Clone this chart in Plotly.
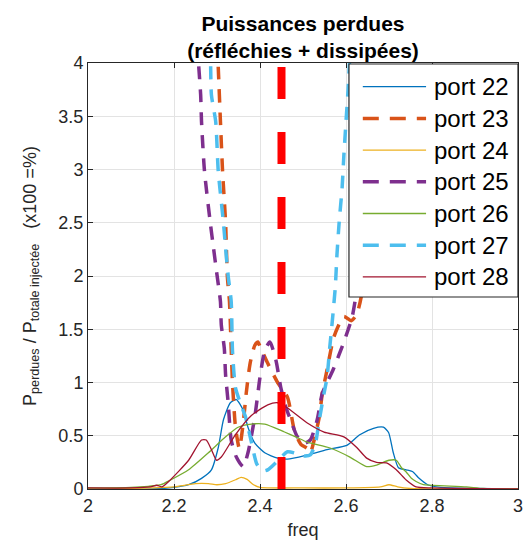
import plotly.graph_objects as go

# ---------------- data ----------------
port_names = ["port 22", "port 23", "port 24", "port 25", "port 26", "port 27", "port 28"]

freq_22 = [2.0, 2.15, 2.2, 2.234, 2.264, 2.287, 2.303, 2.315, 2.331, 2.345, 2.361, 2.372, 2.388, 2.411,
           2.441, 2.464, 2.51, 2.556, 2.602, 2.632, 2.664, 2.687, 2.699, 2.71, 2.722, 2.74, 2.756, 2.77,
           2.79, 2.82, 2.9, 3.0]
p_22 = [0.0, 0.0, 0.015, 0.04, 0.1, 0.18, 0.39, 0.65, 0.81, 0.84, 0.74, 0.58, 0.43, 0.34,
        0.29, 0.28, 0.32, 0.37, 0.41, 0.51, 0.57, 0.58, 0.53, 0.34, 0.2, 0.18, 0.16, 0.1,
        0.04, 0.015, 0.005, 0.0]

freq_23 = [2.298, 2.303, 2.308, 2.313, 2.32, 2.324, 2.329, 2.333, 2.336, 2.343, 2.352, 2.361, 2.368,
           2.377, 2.388, 2.395, 2.402, 2.418, 2.441, 2.464, 2.48, 2.495, 2.51, 2.517, 2.526, 2.538,
           2.545, 2.556, 2.572, 2.595, 2.612, 2.625, 2.637, 2.655, 2.675, 2.69, 2.7]
p_23 = [4.4, 3.95, 3.45, 2.98, 2.5, 2.0, 1.76, 1.32, 1.0, 0.58, 0.38, 0.62, 0.9,
        1.18, 1.35, 1.38, 1.32, 1.18, 1.0, 0.86, 0.55, 0.42, 0.38, 0.34, 0.46, 0.68,
        0.9, 1.12, 1.43, 1.62, 1.58, 1.64, 1.84, 2.5, 3.4, 4.0, 4.5]

freq_24 = [2.0, 2.15, 2.2, 2.25, 2.28, 2.3, 2.32, 2.345, 2.356, 2.37, 2.385, 2.4, 2.5, 2.6, 2.68,
           2.7, 2.72, 2.75, 3.0]
p_24 = [0.0, 0.01, 0.02, 0.05, 0.05, 0.04, 0.05, 0.09, 0.11, 0.09, 0.04, 0.015, 0.01, 0.01, 0.02,
        0.04, 0.02, 0.005, 0.0]

freq_25 = [2.25, 2.257, 2.262, 2.264, 2.271, 2.285, 2.292, 2.299, 2.308, 2.31, 2.317, 2.32, 2.326,
           2.333, 2.345, 2.361, 2.372, 2.388, 2.4, 2.411, 2.423, 2.437, 2.448, 2.46, 2.471, 2.487,
           2.503, 2.517, 2.533, 2.545, 2.57, 2.595, 2.614, 2.625, 2.645, 2.665, 2.676, 2.685]
p_25 = [4.4, 4.0, 3.7, 3.45, 2.98, 2.48, 2.26, 2.04, 1.76, 1.54, 1.32, 1.07, 0.81,
        0.46, 0.3, 0.21, 0.34, 0.68, 1.05, 1.3, 1.38, 1.21, 0.96, 0.77, 0.65, 0.49,
        0.43, 0.46, 0.65, 0.9, 1.12, 1.38, 1.61, 1.87, 2.6, 3.4, 4.0, 4.5]

freq_26 = [2.0, 2.1, 2.14, 2.17, 2.19, 2.234, 2.28, 2.32, 2.349, 2.38, 2.411, 2.457, 2.483, 2.51,
           2.563, 2.609, 2.648, 2.671, 2.7, 2.717, 2.729, 2.74, 2.752, 2.763, 2.78, 2.83, 2.88,
           2.92, 3.0]
p_26 = [0.01, 0.015, 0.025, 0.04, 0.08, 0.18, 0.34, 0.49, 0.58, 0.61, 0.61, 0.535, 0.49, 0.44,
        0.385, 0.3, 0.21, 0.225, 0.27, 0.27, 0.2, 0.16, 0.1, 0.07, 0.04, 0.03, 0.02,
        0.005, 0.0]

freq_27 = [2.28, 2.285, 2.287, 2.297, 2.303, 2.315, 2.32, 2.326, 2.333, 2.336, 2.343, 2.355, 2.366,
           2.38, 2.392, 2.405, 2.418, 2.44, 2.464, 2.487, 2.503, 2.517, 2.529, 2.538, 2.549,
           2.556, 2.562, 2.568, 2.575, 2.579, 2.584, 2.591, 2.595, 2.6, 2.605, 2.608, 2.612]
p_27 = [4.4, 4.0, 3.7, 3.45, 2.98, 2.5, 2.26, 2.0, 1.76, 1.3, 0.95, 0.8, 0.68,
        0.44, 0.24, 0.17, 0.18, 0.26, 0.35, 0.33, 0.31, 0.32, 0.43, 0.65, 0.9,
        1.05, 1.32, 1.57, 1.89, 2.2, 2.5, 2.83, 3.13, 3.45, 3.76, 4.0, 4.4]

freq_28 = [2.0, 2.1, 2.145, 2.16, 2.172, 2.19, 2.234, 2.264, 2.275, 2.287, 2.299, 2.31, 2.343, 2.38,
           2.418, 2.441, 2.464, 2.51, 2.549, 2.595, 2.625, 2.648, 2.671, 2.694, 2.717, 2.74,
           2.763, 2.8, 3.0]
p_28 = [0.01, 0.01, 0.02, 0.035, 0.02, 0.08, 0.27, 0.46, 0.46, 0.37, 0.27, 0.3, 0.51, 0.69,
        0.79, 0.81, 0.76, 0.62, 0.535, 0.49, 0.39, 0.29, 0.25, 0.245, 0.18, 0.085,
        0.02, 0.01, 0.0]

marker_freq = [2.45, 2.45]
marker_p = [0.0, 4.0]

x_ticks = [2, 2.2, 2.4, 2.6, 2.8, 3]
x_tick_labels = ["2", "2.2", "2.4", "2.6", "2.8", "3"]
y_ticks = [0, 0.5, 1, 1.5, 2, 2.5, 3, 3.5, 4]
y_tick_labels = ["0", "0.5", "1", "1.5", "2", "2.5", "3", "3.5", "4"]

# ---------------- styles ----------------
colors = ["#0072BD", "#D95319", "#EDB120", "#7E2F8E", "#77AC30", "#4DBEEE", "#A2142F"]
dashed = [False, True, False, True, False, True, False]
series_x = [freq_22, freq_23, freq_24, freq_25, freq_26, freq_27, freq_28]
series_y = [p_22, p_23, p_24, p_25, p_26, p_27, p_28]
DASH = "13px,10px"
FONT = "Liberation Sans, Arial, Helvetica, sans-serif"
AX = "#262626"

W, H = 532, 551
L, R, T, B = 88, 9, 63, 62
pw, ph = W - L - R, H - T - B

fig = go.Figure()
for name, xs, ys, c, d in zip(port_names, series_x, series_y, colors, dashed):
    fig.add_trace(go.Scatter(
        x=xs, y=ys, mode="lines", name=name, showlegend=False,
        line=dict(color=c, width=3.5 if d else 1.3, dash=DASH if d else "solid",
                  shape="spline", smoothing=0.6),
    ))

fig.add_trace(go.Scatter(
    x=marker_freq, y=marker_p, mode="lines", showlegend=False, name="2.45",
    line=dict(color="#FF0000", width=8, dash="32px,33px"),
))

# ---------------- custom legend (MATLAB-like box) ----------------
def px2x(px):
    return (px - L) / pw

def px2y(py):
    return (H - B - py) / ph

shapes = [dict(type="rect", xref="paper", yref="paper",
               x0=px2x(352), x1=1.0, y0=px2y(297), y1=px2y(64),
               fillcolor="white", line=dict(color=AX, width=1.2), layer="above")]
annotations = []
for i, (name, c, d) in enumerate(zip(port_names, colors, dashed)):
    cy = 86.7 + 31.7 * i
    shapes.append(dict(type="line", xref="paper", yref="paper",
                       x0=px2x(366), x1=px2x(430), y0=px2y(cy), y1=px2y(cy),
                       line=dict(color=c, width=3.5 if d else 1.3,
                                 dash="16px,11px" if d else "solid"),
                       layer="above"))
    annotations.append(dict(xref="paper", yref="paper", x=px2x(436), y=px2y(cy),
                            xanchor="left", yanchor="middle", showarrow=False,
                            text=name, font=dict(family=FONT, size=24, color="#000000")))

fig.update_layout(
    width=W, height=H,
    margin=dict(l=L, r=R, t=T, b=B),
    paper_bgcolor="white", plot_bgcolor="white",
    font=dict(family=FONT, size=17, color=AX),
    title=dict(text="<b>Puissances perdues</b><br><b>(réfléchies + dissipées)</b>",
               x=0.5, xref="paper", xanchor="center",
               y=1 - 31 / H, yref="container", yanchor="middle",
               font=dict(family=FONT, size=21, color="#000000")),
    shapes=shapes,
    annotations=annotations,
    showlegend=False,
)
fig.update_xaxes(range=[2, 3], tickvals=x_ticks, ticktext=x_tick_labels,
                 showgrid=True, gridcolor="#E3E3E3", gridwidth=1, zeroline=False,
                 showline=True, linecolor=AX, linewidth=1, mirror="ticks",
                 ticks="inside", ticklen=5, tickcolor=AX,
                 tickfont=dict(family=FONT, size=18, color=AX),
                 title=dict(text="freq", font=dict(family=FONT, size=18, color=AX), standoff=8))
fig.update_yaxes(range=[0, 4], tickvals=y_ticks, ticktext=y_tick_labels,
                 showgrid=True, gridcolor="#E3E3E3", gridwidth=1, zeroline=False,
                 showline=True, linecolor=AX, linewidth=1, mirror="ticks",
                 ticks="inside", ticklen=5, tickcolor=AX,
                 tickfont=dict(family=FONT, size=18, color=AX),
                 title=dict(text="P<sub>perdues</sub> / P<sub>totale injectée</sub>\u00a0\u00a0\u00a0(x100 =%)",
                            font=dict(family=FONT, size=18, color=AX), standoff=17))

fig.write_html("out.html", config={"displayModeBar": False},
               post_script="document.body.style.margin='0px';")
